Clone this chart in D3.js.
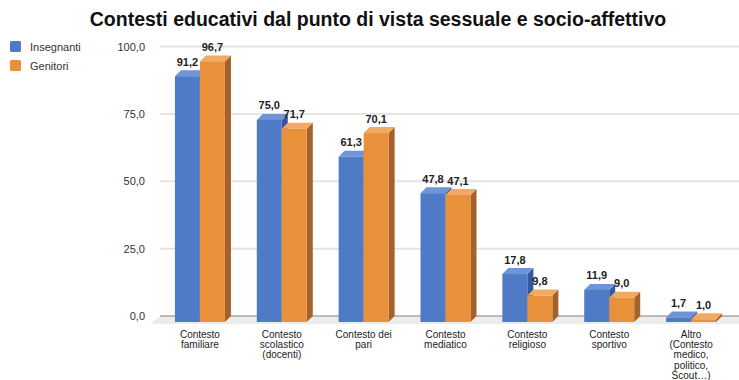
<!DOCTYPE html>
<html>
<head>
<meta charset="utf-8">
<script src="https://cdn.jsdelivr.net/npm/d3@7"></script>
<style>
  html, body { margin: 0; padding: 0; background: #fff; }
  svg { display: block; font-family: "Liberation Sans", Arial, sans-serif; }
</style>
</head>
<body>
<svg id="chart" width="739" height="380"></svg>
<script>
// Data
const categories = [
  ["Contesto", "familiare"],
  ["Contesto", "scolastico", "(docenti)"],
  ["Contesto dei", "pari"],
  ["Contesto", "mediatico"],
  ["Contesto", "religioso"],
  ["Contesto", "sportivo"],
  ["Altro", "(Contesto", "medico,", "politico,", "Scout…)"]
];
const seriesNames = ["Insegnanti", "Genitori"];
const insegnanti = [91.2, 75.0, 61.3, 47.8, 17.8, 11.9, 1.7];
const genitori   = [96.7, 71.7, 70.1, 47.1, 9.8, 9.0, 1.0];
const yTicks = [0, 25, 50, 75, 100];

const palette = [
  { front: "#4f7bc6", top: "#6d95d8", side: "#3458a3" },
  { front: "#e8903a", top: "#f2aa62", side: "#a4612a" }
];

const svg = d3.select("#chart");
const depthX = 6, depthY = 6;
const fmt = v => d3.format(".1f")(v).replace(".", ",");

// Back wall scale (gridlines) and front face scale
const y = d3.scaleLinear().domain([0, 100]).range([316, 46.5]);
const yFront = v => y(v) + depthY;

const x0 = d3.scaleBand().domain(d3.range(categories.length)).range([159, 732]).paddingInner(0).paddingOuter(0);
const x1 = d3.scaleBand().domain([0, 1]).range([0, 50]).padding(0);

// Title
svg.append("text")
  .attr("x", 378).attr("y", 26)
  .attr("text-anchor", "middle")
  .attr("font-size", 19.5).attr("font-weight", "bold").attr("fill", "#111")
  .text("Contesti educativi dal punto di vista sessuale e socio-affettivo");

// Legend
seriesNames.forEach((name, i) => {
  const g = svg.append("g").attr("transform", `translate(10,${41 + i * 19})`);
  g.append("rect").attr("width", 11).attr("height", 11).attr("rx", 1.5).attr("fill", palette[i].front);
  g.append("text").attr("x", 20).attr("y", 9.5).attr("font-size", 11).attr("fill", "#333").text(name);
});

// Floor
const floorLeftBack = 160, floorRight = 739;
svg.append("path")
  .attr("d", `M${floorLeftBack},${y(0)} L${floorRight},${y(0)} L${floorRight},${y(0) + depthY + 2} L${floorLeftBack - 10},${y(0) + depthY + 2} Z`)
  .attr("fill", "#ececec");

// Gridlines and y labels
const yAxis = d3.axisLeft(y).tickValues(yTicks).tickSize(0).tickFormat(fmt);
const ya = svg.append("g").attr("transform", "translate(148,0)").call(yAxis);
ya.select(".domain").remove();
ya.selectAll("text").attr("font-size", 11).attr("fill", "#333").attr("font-family", "Liberation Sans, Arial, sans-serif");

svg.append("g").selectAll("line").data(yTicks).join("line")
  .attr("x1", 160).attr("x2", 739)
  .attr("y1", d => y(d)).attr("y2", d => y(d))
  .attr("stroke", d => d === 0 ? "#a8a8a8" : "#e4e4e4")
  .attr("stroke-width", d => d === 0 ? 1.5 : 2);

// Bars (3D: front, side, top)
const series = [insegnanti, genitori];
const barsG = svg.append("g");
categories.forEach((cat, ci) => {
  const gx = x0(ci) + (x0.bandwidth() - x1.range()[1]) / 2;
  series.forEach((vals, si) => {
    const v = vals[ci];
    const c = palette[si];
    const xl = gx + x1(si);
    const w = x1.bandwidth();
    const yt = yFront(v);
    const yb = yFront(0);
    // side
    barsG.append("path")
      .attr("d", `M${xl + w},${yt} L${xl + w + depthX},${yt - depthY} L${xl + w + depthX},${yb - depthY} L${xl + w},${yb} Z`)
      .attr("fill", c.side);
    // top
    barsG.append("path")
      .attr("d", `M${xl},${yt} L${xl + depthX},${yt - depthY} L${xl + w + depthX},${yt - depthY} L${xl + w},${yt} Z`)
      .attr("fill", c.top);
    // front
    barsG.append("rect")
      .attr("x", xl).attr("y", yt).attr("width", w).attr("height", yb - yt)
      .attr("fill", c.front);
    // value label
    barsG.append("text")
      .attr("x", xl + w / 2).attr("y", y(v) - 4.5)
      .attr("text-anchor", "middle")
      .attr("font-size", 11).attr("font-weight", "bold").attr("fill", "#222")
      .text(fmt(v));
  });
});

// Category labels
const xl = svg.append("g");
categories.forEach((lines, ci) => {
  const cx = x0(ci) + x0.bandwidth() / 2;
  const t = xl.append("text").attr("text-anchor", "middle").attr("font-size", 10).attr("fill", "#222");
  lines.forEach((ln, li) => {
    t.append("tspan").attr("x", cx).attr("y", 338 + li * 10.2).text(ln);
  });
});
</script>
</body>
</html>
